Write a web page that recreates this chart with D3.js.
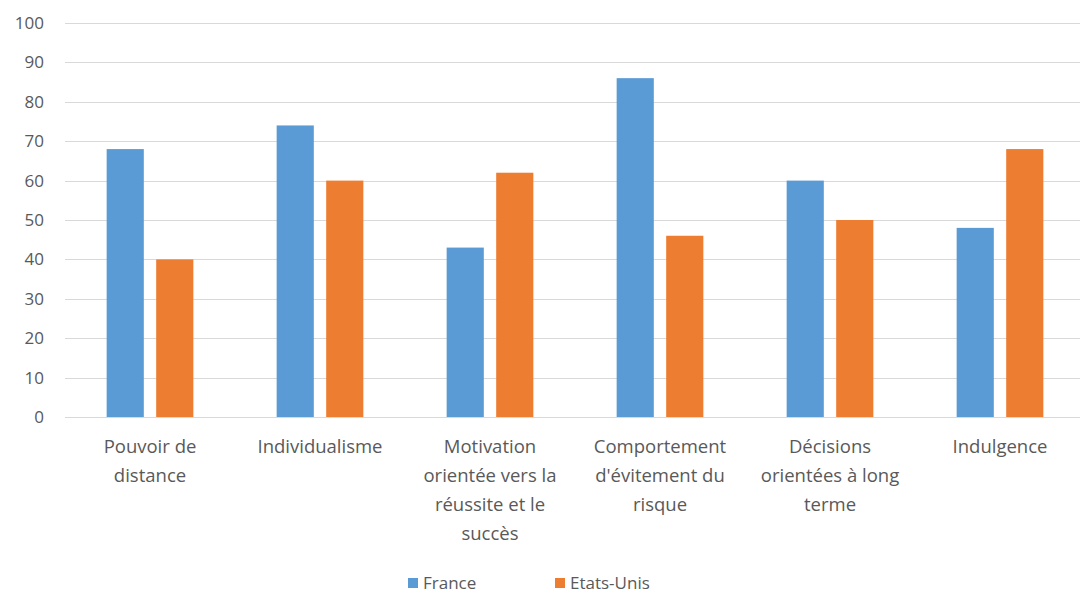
<!DOCTYPE html>
<html>
<head>
<meta charset="utf-8">
<script src="https://cdn.jsdelivr.net/npm/d3@7"></script>
<style>
  body { margin: 0; background: #fff; }
  svg { display: block; }
  text { font-family: "Open Sans", "Noto Sans", sans-serif; fill: #595959; }
</style>
</head>
<body>
<svg id="chart" width="1080" height="592"></svg>
<script>
// Hofstede cultural dimensions, France vs Etats-Unis
const categories = [
  ["Pouvoir de", "distance"],
  ["Individualisme"],
  ["Motivation", "orientée vers la", "réussite et le", "succès"],
  ["Comportement", "d'évitement du", "risque"],
  ["Décisions", "orientées à long", "terme"],
  ["Indulgence"]
];
const seriesNames = ["France", "Etats-Unis"];
const franceValues = [68, 74, 43, 86, 60, 48];
const usValues = [40, 60, 62, 46, 50, 68];
const yTicks = [0, 10, 20, 30, 40, 50, 60, 70, 80, 90, 100];
const colors = ["#5B9BD5", "#ED7D31"];

const svg = d3.select("#chart");
const margin = { left: 65, right: -5, top: 23, bottom: 175 };
const width = 1080 - margin.left - margin.right;
const height = 592 - margin.top - margin.bottom;

const g = svg.append("g").attr("transform", `translate(${margin.left},${margin.top})`);

const x0 = d3.scaleBand().domain(d3.range(categories.length)).range([0, width]).paddingInner(0.49).paddingOuter(0.245);
const x1 = d3.scaleBand().domain(seriesNames).range([0, x0.bandwidth()]).paddingInner(0.25);
const y = d3.scaleLinear().domain([0, 100]).range([height, 0]);

// gridlines
g.append("g")
  .selectAll("line")
  .data(yTicks)
  .join("line")
  .attr("x1", 0).attr("x2", width)
  .attr("y1", d => Math.round(y(d)) + 0.5).attr("y2", d => Math.round(y(d)) + 0.5)
  .attr("stroke", "#d9d9d9").attr("stroke-width", 1);

// y axis labels
const yAxis = g.append("g").call(d3.axisLeft(y).tickValues(yTicks).tickSize(0).tickPadding(21));
yAxis.select(".domain").remove();
yAxis.selectAll("text").attr("font-size", 17).attr("fill", "#595959")
  .style("font-family", '"Open Sans", sans-serif');

// bars
const series = [franceValues, usValues];
const groups = g.selectAll(".grp")
  .data(categories.map((c, i) => i))
  .join("g")
  .attr("transform", i => `translate(${x0(i)},0)`);
groups.selectAll("rect")
  .data(i => seriesNames.map((s, k) => ({ s, k, v: series[k][i] })))
  .join("rect")
  .attr("x", d => x1(d.s))
  .attr("width", x1.bandwidth())
  .attr("y", d => y(d.v))
  .attr("height", d => y(0) - y(d.v))
  .attr("fill", d => colors[d.k]);

// category labels
const labels = g.append("g").attr("transform", `translate(0,${height})`);
categories.forEach((lines, i) => {
  const cx = x0(i) + x0.bandwidth() / 2;
  const t = labels.append("text")
    .attr("x", cx)
    .attr("y", 36)
    .attr("text-anchor", "middle")
    .attr("font-size", 18.5);
  lines.forEach((ln, j) => {
    t.append("tspan").attr("x", cx).attr("dy", j === 0 ? 0 : 29).text(ln);
  });
});

// legend
const legend = svg.append("g").attr("transform", "translate(408,583)");
const legendItems = [{ name: seriesNames[0], x: 0 }, { name: seriesNames[1], x: 147 }];
legendItems.forEach((d, k) => {
  legend.append("rect").attr("x", d.x).attr("y", -5).attr("width", 10).attr("height", 10).attr("fill", colors[k]);
  legend.append("text").attr("x", d.x + 15).attr("y", 6).attr("font-size", 17).text(d.name);
});
</script>
</body>
</html>
